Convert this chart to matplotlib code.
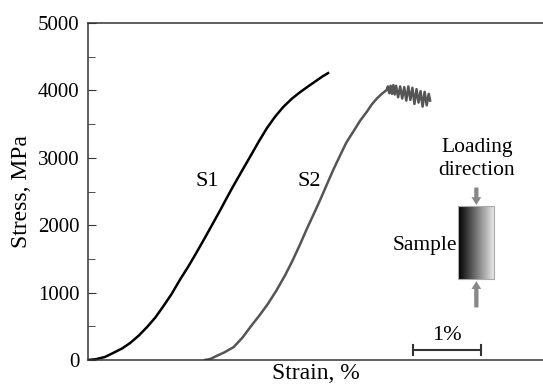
import numpy as np
import matplotlib
matplotlib.use("Agg")
import matplotlib.pyplot as plt
from matplotlib.ticker import MultipleLocator

plt.rcParams['font.family'] = ['Liberation Serif', 'DejaVu Serif']

# S1 curve (strain %, stress MPa)
s1_strain = [0.0, 0.12, 0.25, 0.37, 0.50, 0.62, 0.75, 0.87, 0.99, 1.10, 1.23, 1.35, 1.48,
             1.60, 1.72, 1.84, 1.94, 2.04, 2.13, 2.26, 2.38, 2.51, 2.63, 2.75, 2.87,
             3.00, 3.12, 3.25, 3.37, 3.45, 3.53]
s1_stress = [0, 12, 45, 104, 170, 252, 365, 490, 630, 786, 980, 1187, 1395,
             1602, 1815, 2033, 2215, 2404, 2570, 2800, 3010, 3240, 3440, 3610, 3754,
             3880, 3976, 4070, 4154, 4210, 4258]

# S2 curve, loading part then serrated plateau
s2_strain = [1.72, 1.80, 1.88, 2.00, 2.14, 2.27, 2.41, 2.52, 2.64, 2.77, 2.90, 3.01, 3.12,
             3.22, 3.33, 3.42, 3.51, 3.61, 3.71, 3.80, 3.90, 4.00, 4.10, 4.17, 4.25, 4.32, 4.39,
             4.41, 4.43, 4.45, 4.47, 4.49, 4.51, 4.53, 4.56, 4.59, 4.62, 4.65, 4.68,
             4.71, 4.74, 4.77, 4.80, 4.83, 4.86, 4.89, 4.92, 4.95, 4.98, 5.01, 5.03]
s2_stress = [0, 15, 55, 110, 190, 330, 519, 660, 825, 1030, 1260, 1480, 1720,
             1950, 2190, 2390, 2600, 2830, 3042, 3230, 3388, 3550, 3684, 3790, 3883, 3950, 4006,
             4060, 3960, 4070, 3950, 4080, 3940, 4070, 3900, 4060, 3880, 4050, 3850,
             4060, 3860, 4040, 3800, 4020, 3820, 3990, 3760, 3980, 3780, 3950, 3850]

fig = plt.figure(figsize=(5.43, 3.89), dpi=100)
ax = fig.add_axes([0.162, 0.0746, 0.838, 0.866])

ax.plot(s1_strain, s1_stress, color='black', lw=1.8, solid_joinstyle='round')
ax.plot(s2_strain, s2_stress, color='#555555', lw=1.8, solid_joinstyle='round')

ax.set_ylim(0, 5000)
ax.yaxis.set_major_locator(MultipleLocator(1000))
ax.yaxis.set_minor_locator(MultipleLocator(500))
ax.tick_params(axis='y', which='major', direction='in', length=6, labelsize=15,
               color='#333333', pad=6)
ax.tick_params(axis='y', which='minor', direction='in', length=5, color='#333333')
ax.set_xticks([])
ax.spines['right'].set_visible(False)
for s in ['left', 'top', 'bottom']:
    ax.spines[s].set_color('#333333')
    ax.spines[s].set_linewidth(1.1)

ax.set_xlabel('Strain, %', fontsize=17, labelpad=2)
ax.set_ylabel('Stress, MPa', fontsize=17, labelpad=4)

ax.text(1.76, 2650, 'S1', fontsize=16, ha='center', va='center')
ax.text(3.26, 2650, 'S2', fontsize=16, ha='center', va='center')

# loading sketch
ax.text(5.72, 3150, 'Loading', fontsize=15.5, ha='center', va='center')
ax.text(5.72, 2810, 'direction', fontsize=15.5, ha='center', va='center')
ax.text(5.43, 1705, 'Sample', fontsize=15.5, ha='right', va='center')

grad = np.linspace(0, 1, 100).reshape(1, -1)
ax.imshow(grad, cmap='gray', vmin=0, vmax=1.08, extent=[5.44, 5.97, 1202, 2285],
          aspect='auto', zorder=2)
ax.add_patch(plt.Rectangle((5.44, 1202), 0.53, 1083, fill=False, ec='#aaaaaa', lw=0.8, zorder=3))
ax.set_xlim(0, 6.69)
ax.set_ylim(0, 5000)

arrow = dict(arrowstyle='simple,head_width=0.5,head_length=0.4,tail_width=0.22',
             color='#888888', lw=0, mutation_scale=14, shrinkA=0, shrinkB=0)
ax.annotate('', xy=(5.71, 2300), xytext=(5.71, 2560), arrowprops=arrow)
ax.annotate('', xy=(5.71, 1170), xytext=(5.71, 780), arrowprops=arrow)

# 1% scale bar
ax.plot([4.78, 5.78], [148, 148], color='#333333', lw=1.5)
ax.plot([4.78, 4.78], [75, 221], color='#333333', lw=1.5)
ax.plot([5.78, 5.78], [75, 221], color='#333333', lw=1.5)
ax.text(5.28, 360, '1%', fontsize=16, ha='center', va='center')

fig.savefig('out.png', dpi=100)
